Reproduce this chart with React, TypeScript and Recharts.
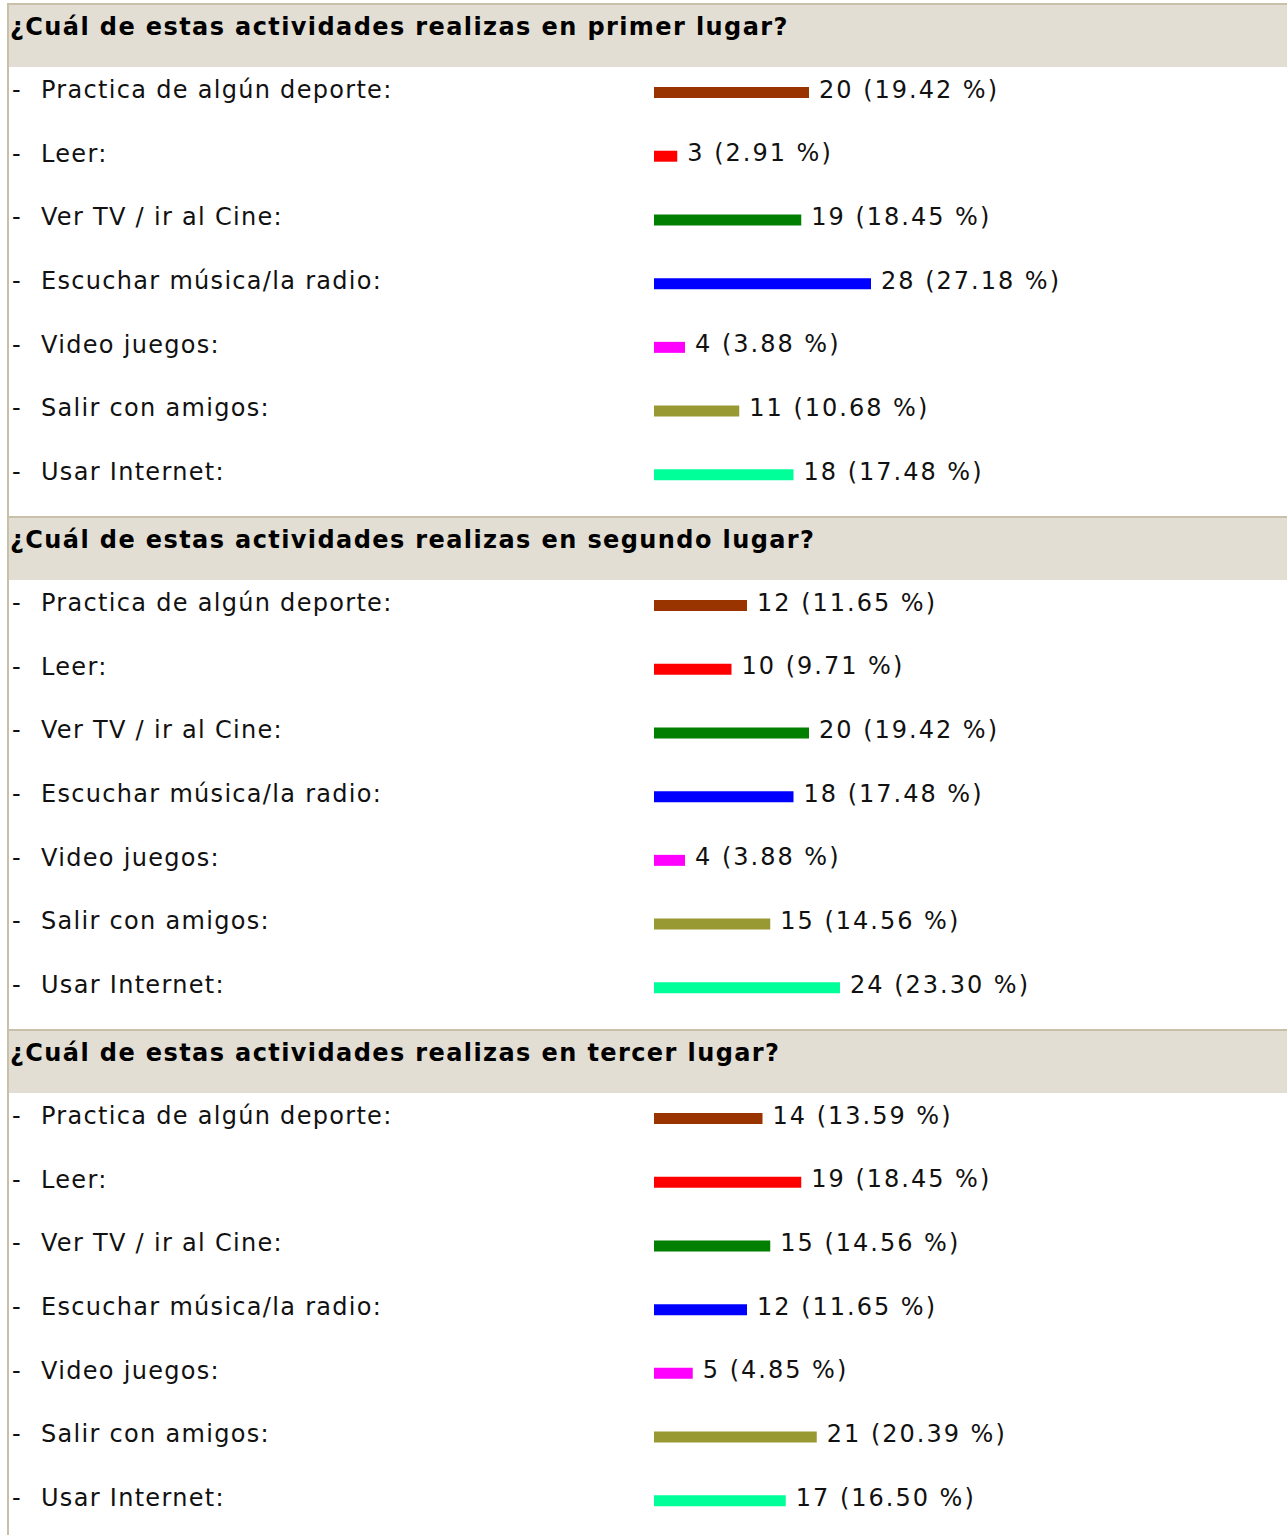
import { BarChart, Bar, XAxis, YAxis, Cell, LabelList } from "recharts";

const ACTIVIDADES = [
  "Practica de algún deporte:",
  "Leer:",
  "Ver TV / ir al Cine:",
  "Escuchar música/la radio:",
  "Video juegos:",
  "Salir con amigos:",
  "Usar Internet:",
];

const COLORES = ["#993300", "#ff0000", "#007f00", "#0000ff", "#ff00ff", "#999933", "#00ff99"];

const PREGUNTAS = [
  "¿Cuál de estas actividades realizas en primer lugar?",
  "¿Cuál de estas actividades realizas en segundo lugar?",
  "¿Cuál de estas actividades realizas en tercer lugar?",
];

const PRIMER_VOTOS = [20, 3, 19, 28, 4, 11, 18];
const PRIMER_PCT = ["19.42", "2.91", "18.45", "27.18", "3.88", "10.68", "17.48"];
const SEGUNDO_VOTOS = [12, 10, 20, 18, 4, 15, 24];
const SEGUNDO_PCT = ["11.65", "9.71", "19.42", "17.48", "3.88", "14.56", "23.30"];
const TERCER_VOTOS = [14, 19, 15, 12, 5, 21, 17];
const TERCER_PCT = ["13.59", "18.45", "14.56", "11.65", "4.85", "20.39", "16.50"];

const FONT = "'DejaVu Sans', Verdana, sans-serif";
const BORDER = "#c9c0aa";

function Tick({ y, payload }: any) {
  return (
    <g>
      <text x={3} y={y} dy={-3} dominantBaseline="central" fontFamily={FONT} fontSize={24} fill="#111">
        -
      </text>
      <text
        x={32}
        y={y}
        dy={-3}
        dominantBaseline="central"
        fontFamily={FONT}
        fontSize={24}
        letterSpacing={1.3}
        fill="#111"
      >
        {payload.value}
      </text>
    </g>
  );
}

function Seccion({ titulo, votos, pct }: { titulo: string; votos: number[]; pct: string[] }) {
  const data = ACTIVIDADES.map((a, i) => ({ actividad: a, votos: votos[i], label: `${votos[i]} (${pct[i]} %)` }));
  return (
    <div style={{ position: "relative", height: 511, borderTop: `2px solid ${BORDER}` }}>
      <div
        style={{
          position: "absolute",
          left: 0,
          top: 0,
          width: 1278,
          height: 62,
          background: "#e2ded3",
          boxSizing: "border-box",
          paddingTop: 8,
          paddingLeft: 1,
          fontFamily: FONT,
          fontWeight: "bold",
          fontSize: 24,
          letterSpacing: 1.4,
          lineHeight: "28px",
          color: "#000",
          whiteSpace: "nowrap",
        }}
      >
        {titulo}
      </div>
      <div style={{ position: "absolute", left: 0, top: 56 }}>
        <BarChart
          layout="vertical"
          width={1265}
          height={446}
          data={data}
          margin={{ top: 0, right: 0, bottom: 0, left: 0 }}
        >
          <XAxis type="number" hide domain={[0, 80]} />
          <YAxis type="category" dataKey="actividad" width={645} axisLine={false} tickLine={false} tick={<Tick />} />
          <Bar dataKey="votos" barSize={11} isAnimationActive={false}>
            {data.map((d, i) => (
              <Cell key={d.actividad} fill={COLORES[i]} />
            ))}
            <LabelList
              dataKey="label"
              content={(p: any) => (
                <text
                  x={p.x + p.width + 10}
                  y={p.y + p.height / 2}
                  dy={-3}
                  dominantBaseline="central"
                  fontFamily={FONT}
                  fontSize={24}
                  letterSpacing={2}
                  fill="#111"
                >
                  {p.value}
                </text>
              )}
            />
          </Bar>
        </BarChart>
      </div>
    </div>
  );
}

export default function App() {
  return (
    <div style={{ position: "absolute", left: 0, top: 0, width: 1287, height: 1535, background: "#fff" }}>
      <div style={{ position: "absolute", left: 7, top: 3, width: 1278, borderLeft: `2px solid ${BORDER}`, height: 1532 }}>
        <Seccion titulo={PREGUNTAS[0]} votos={PRIMER_VOTOS} pct={PRIMER_PCT} />
        <Seccion titulo={PREGUNTAS[1]} votos={SEGUNDO_VOTOS} pct={SEGUNDO_PCT} />
        <Seccion titulo={PREGUNTAS[2]} votos={TERCER_VOTOS} pct={TERCER_PCT} />
      </div>
    </div>
  );
}
